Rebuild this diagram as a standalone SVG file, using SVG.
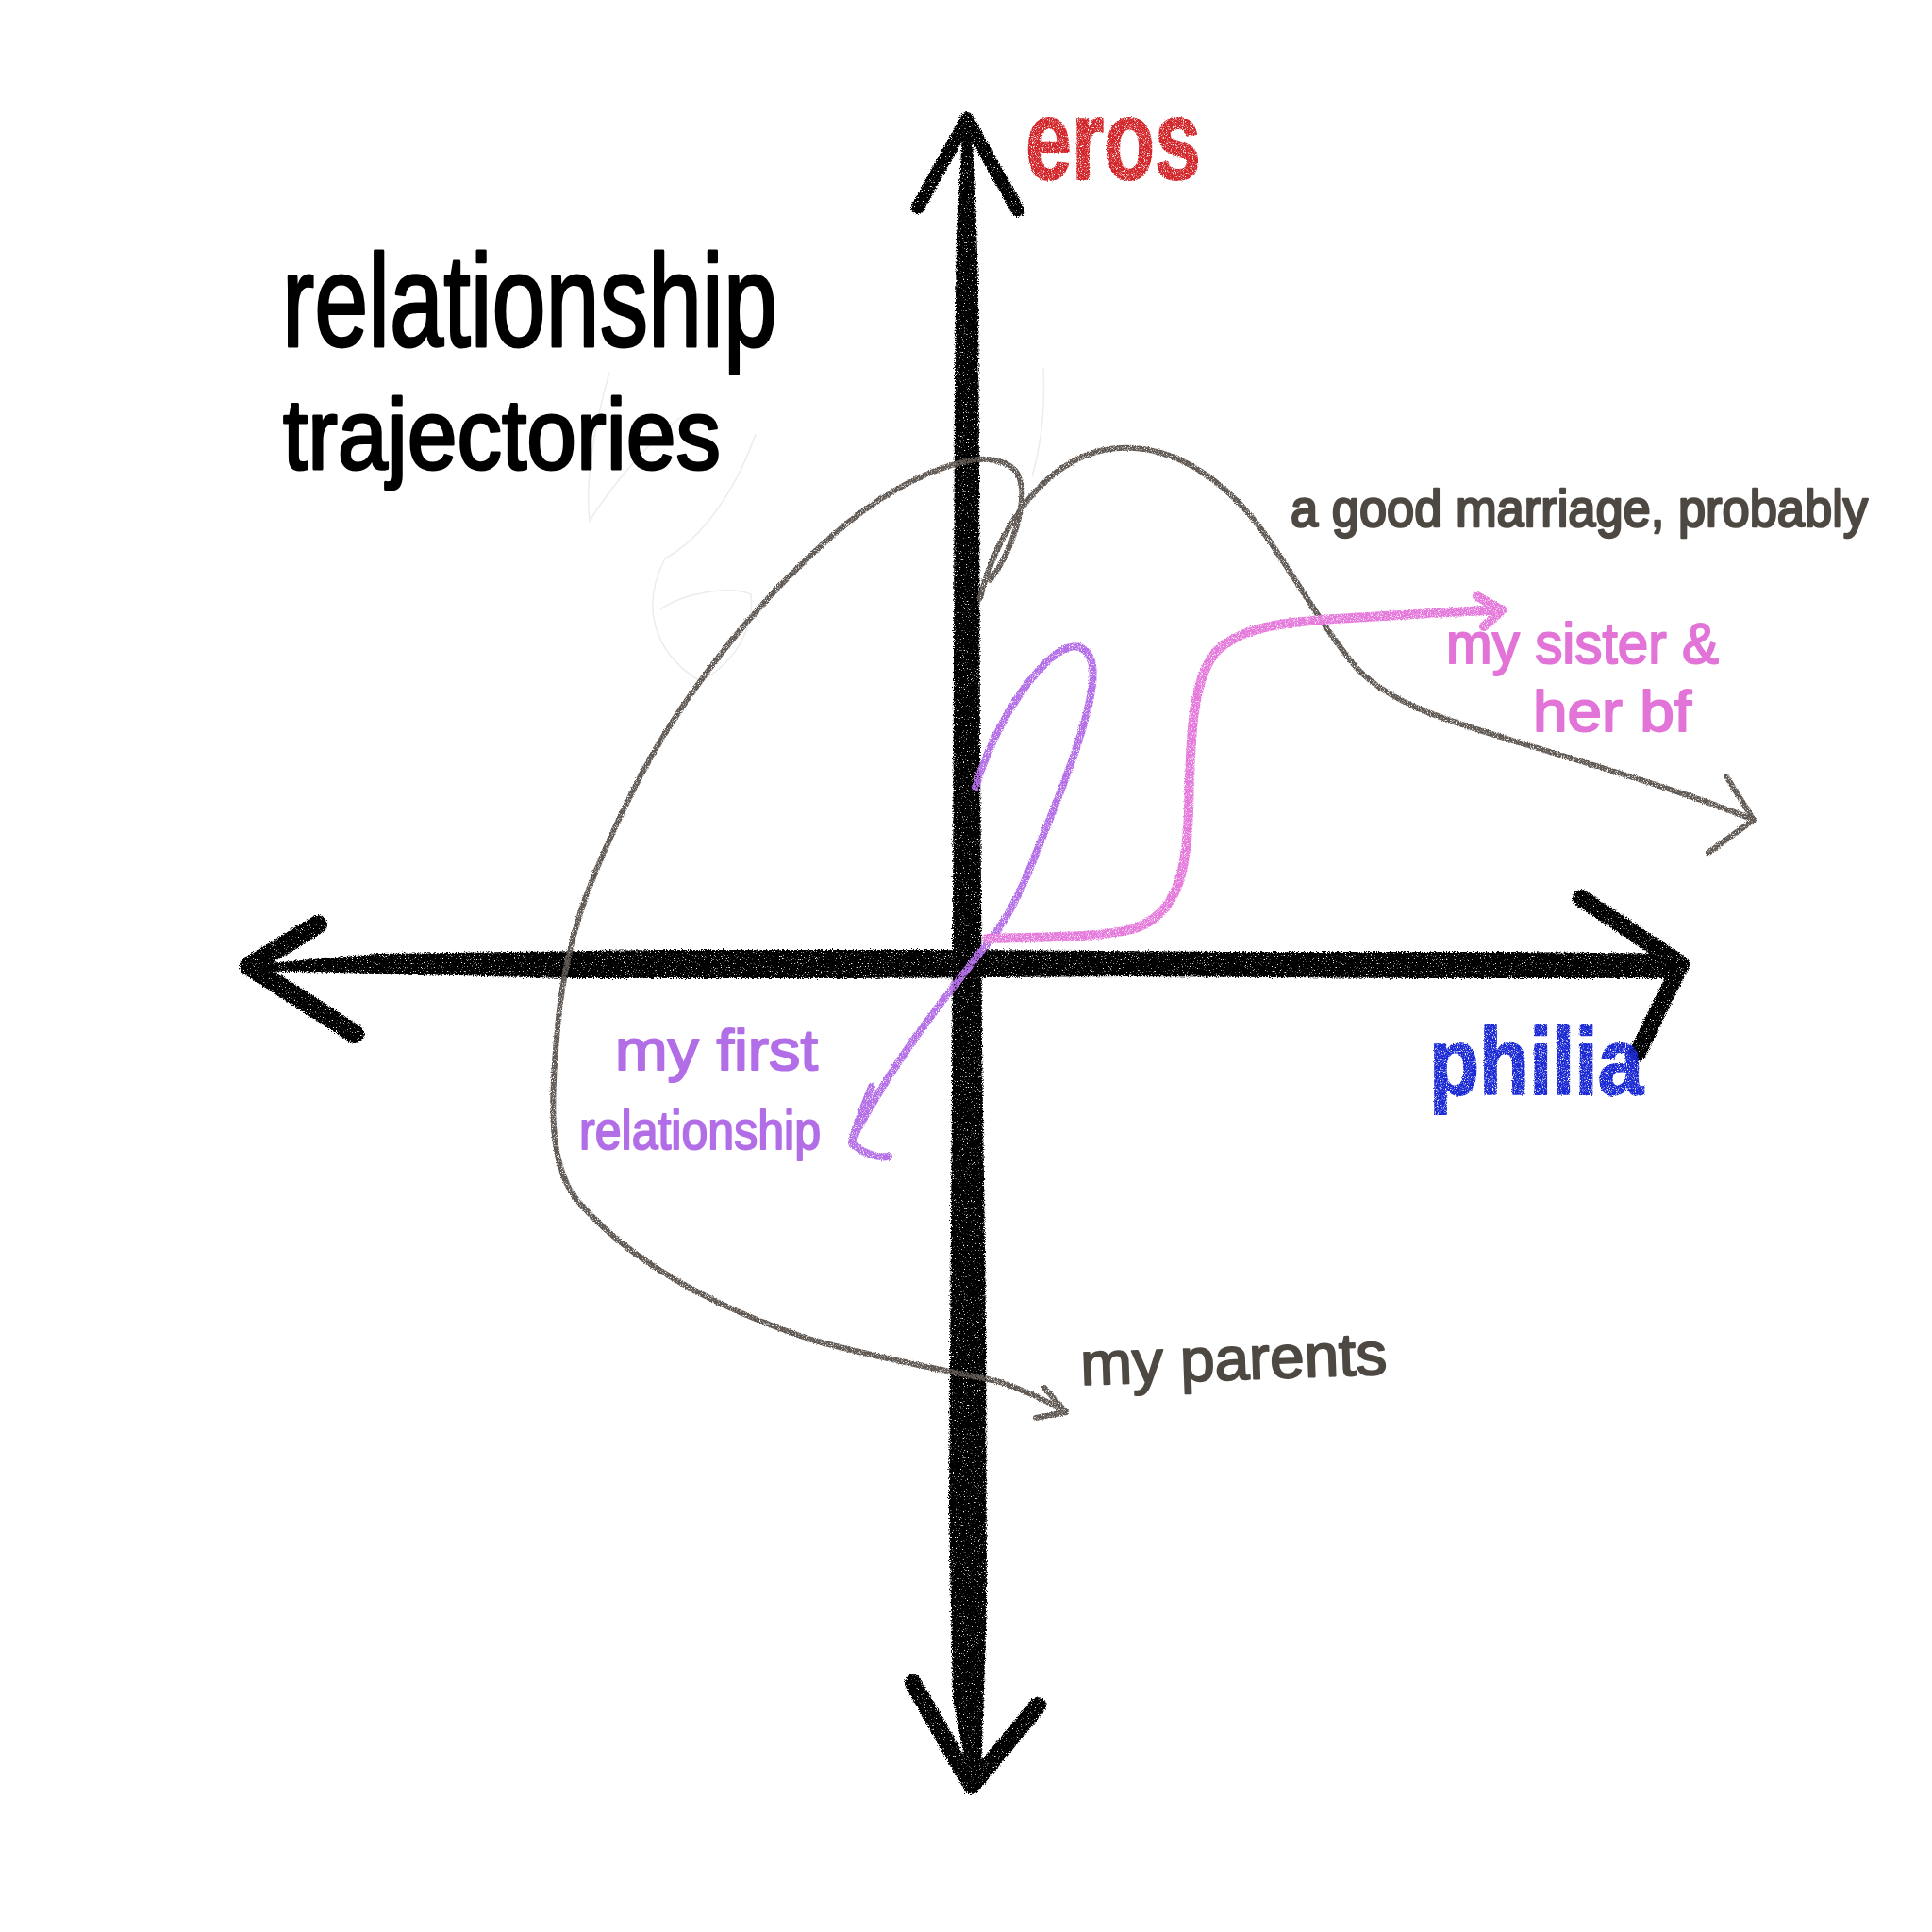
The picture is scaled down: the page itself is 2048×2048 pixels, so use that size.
<svg xmlns="http://www.w3.org/2000/svg" width="2048" height="2048" viewBox="0 0 2048 2048">
<defs>
<filter id="chalk" filterUnits="userSpaceOnUse" x="0" y="0" width="2048" height="2048">
<feTurbulence type="fractalNoise" baseFrequency="0.75" numOctaves="2" seed="7" result="n"/>
<feDisplacementMap in="SourceGraphic" in2="n" scale="6" xChannelSelector="R" yChannelSelector="G" result="d"/>
<feColorMatrix in="n" type="matrix" values="0 0 0 0 0  0 0 0 0 0  0 0 0 0 0  7 0 0 0 -1.5" result="g"/>
<feComposite in="d" in2="g" operator="in"/>
</filter>
<filter id="grain" filterUnits="userSpaceOnUse" x="0" y="0" width="2048" height="2048">
<feTurbulence type="fractalNoise" baseFrequency="0.9" numOctaves="2" seed="3" result="n"/>
<feDisplacementMap in="SourceGraphic" in2="n" scale="3" xChannelSelector="R" yChannelSelector="G" result="d"/>
<feColorMatrix in="n" type="matrix" values="0 0 0 0 0  0 0 0 0 0  0 0 0 0 0  4 0 0 0 -0.9" result="g"/>
<feComposite in="d" in2="g" operator="in"/>
</filter>
<style>
.ax{fill:#000}
.axs{fill:none;stroke:#000;stroke-linecap:round;stroke-linejoin:round}
.tr{fill:none;stroke-linecap:round;stroke-linejoin:round}
.gray{stroke:#5e5853;stroke-width:6}
.purple{stroke:#b46ee8;stroke-width:8}
.pink{stroke:#e679dc;stroke-width:10}
.ghost{fill:none;stroke:#ececec;stroke-width:1.5}
.hand{font-family:"Liberation Sans",Arial,sans-serif;stroke-linejoin:round;stroke-linecap:round}
</style>
</defs>
<rect width="2048" height="2048" fill="#ffffff"/>

<g id="ghost-sketch">
<path class="ghost" d="M646,395 C630,450 620,510 625,552 C645,520 685,470 722,442"/>
<path class="ghost" d="M801,460 C780,520 745,570 705,592 C680,640 690,690 742,722 C782,702 800,662 796,630 C770,620 722,630 700,646"/>
<path class="ghost" d="M1106,390 C1108,430 1104,470 1094,505"/>
</g>

<g id="axes" filter="url(#chalk)">
<path class="ax" d="M1025,124 L1020,140 L1014,250 L1012,400 L1011,700 L1010,1000 L1008,1300 L1006,1600 L1010,1800 L1028,1894 L1040,1880 L1046,1700 L1045,1400 L1041,1100 L1039,800 L1038,500 L1037,300 L1033,180 L1029,130 Z"/>
<path class="ax" d="M262,1023 L400,1011 L700,1007 L1000,1007 L1300,1009 L1600,1009 L1780,1011 L1786,1024 L1770,1037 L1500,1037 L1200,1035 L900,1037 L600,1037 L400,1032 L268,1029 Z"/>
<polyline class="axs" stroke-width="14" points="973,220 1025,126 1079,223"/>
<polyline class="axs" stroke-width="20" points="337,980 264,1024 376,1096"/>
<polyline class="axs" stroke-width="18" points="1676,952 1782,1022 1736,1116"/>
<polyline class="axs" stroke-width="18" points="968,1784 1030,1893 1100,1808"/>
</g>

<g id="connectors" filter="url(#grain)">
<path id="marriage" class="tr gray" d="M1039,634 C1055,570 1100,492 1170,477 C1240,464 1300,510 1340,565 C1375,615 1405,670 1440,710 C1480,750 1540,765 1620,790 C1720,820 1800,845 1859,869"/>
<polyline class="tr gray" points="1830,823 1859,869 1811,904"/>
<path id="parents" class="tr gray" d="M1050,615 C1075,580 1090,530 1080,505 C1070,485 1040,484 1020,490 C980,500 930,525 880,570 C800,640 720,740 670,840 C620,940 600,1000 592,1080 C584,1160 580,1230 610,1270 C660,1330 740,1380 860,1420 C950,1445 1020,1455 1060,1465 C1090,1475 1110,1485 1130,1497"/>
<polyline class="tr gray" points="1107,1471 1130,1497 1098,1503"/>
<path id="first" class="tr purple" d="M1034,835 C1050,780 1085,720 1120,693 C1145,675 1162,690 1158,725 C1152,775 1120,850 1090,925 C1075,960 1060,985 1045,1002 C1000,1060 950,1120 905,1205"/>
<path class="tr purple" d="M924,1152 C915,1175 906,1195 903,1212 C915,1222 928,1228 942,1226"/>
<path id="sister" class="tr pink" d="M1046,995 C1100,993 1160,995 1200,985 C1250,970 1258,920 1260,860 C1262,790 1262,720 1290,690 C1320,660 1380,658 1450,654 C1510,650 1560,648 1592,646"/>
<polyline class="tr pink" points="1566,632 1592,647 1573,664"/>
</g>

<g id="title">
<text class="hand" x="299" y="367" font-size="140" textLength="525" lengthAdjust="spacingAndGlyphs" fill="#000" stroke="#000" stroke-width="3">relationship</text>
<text class="hand" x="300" y="497" font-size="105" textLength="464" lengthAdjust="spacingAndGlyphs" fill="#000" stroke="#000" stroke-width="3">trajectories</text>
</g>

<g id="label-eros" filter="url(#grain)">
<text class="hand" x="1087" y="190" font-size="120" font-weight="bold" textLength="186" lengthAdjust="spacingAndGlyphs" fill="#d3262a" stroke="#d3262a" stroke-width="2">eros</text>
</g>
<g id="label-philia" filter="url(#grain)">
<text class="hand" x="1515" y="1160" font-size="100" font-weight="bold" textLength="227" lengthAdjust="spacingAndGlyphs" fill="#1a2ad6" stroke="#1a2ad6" stroke-width="2">philia</text>
</g>
<g id="label-marriage">
<text class="hand" x="1368" y="558" font-size="56" textLength="612" lengthAdjust="spacingAndGlyphs" fill="#4e4843" stroke="#4e4843" stroke-width="2.5">a good marriage, probably</text>
</g>
<g id="label-sister">
<text class="hand" x="1533" y="703" font-size="62" textLength="289" lengthAdjust="spacingAndGlyphs" fill="#e274d8" stroke="#e274d8" stroke-width="2">my sister &amp;</text>
<text class="hand" x="1625" y="775" font-size="62" textLength="168" lengthAdjust="spacingAndGlyphs" fill="#e274d8" stroke="#e274d8" stroke-width="2">her bf</text>
</g>
<g id="label-first">
<text class="hand" x="652" y="1134" font-size="62" textLength="215" lengthAdjust="spacingAndGlyphs" fill="#b26ee6" stroke="#b26ee6" stroke-width="2">my first</text>
<text class="hand" x="614" y="1218" font-size="58" textLength="256" lengthAdjust="spacingAndGlyphs" fill="#b26ee6" stroke="#b26ee6" stroke-width="2">relationship</text>
</g>
<g id="label-parents">
<text class="hand" x="1146" y="1468" font-size="64" textLength="325" lengthAdjust="spacingAndGlyphs" fill="#4e4843" stroke="#4e4843" stroke-width="2" transform="rotate(-2 1146 1468)">my parents</text>
</g>
</svg>
